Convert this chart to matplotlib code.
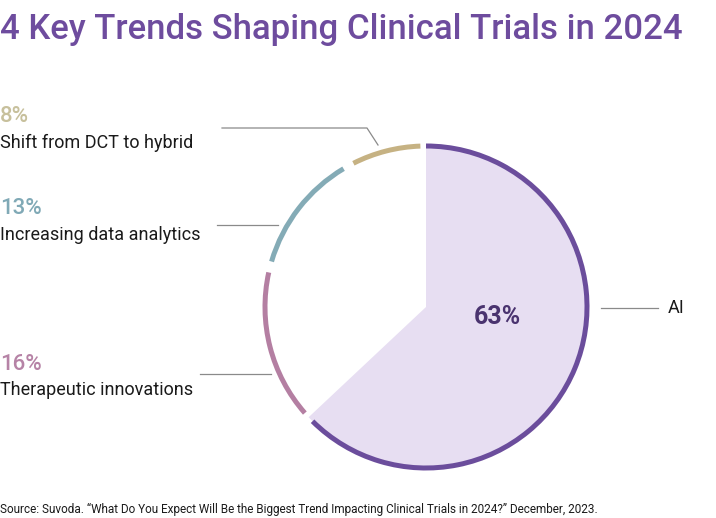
import matplotlib
matplotlib.use("Agg")
import matplotlib.pyplot as plt

labels = ["AI", "Therapeutic innovations", "Increasing data analytics", "Shift from DCT to hybrid"]
values = [63, 16, 13, 8]
pct_text = ["63%", "16%", "13%", "8%"]
arc_colors = ["#6b4d9c", "#b47fa2", "#84abb6", "#c6b283"]
text_colors = ["#4a336f", "#b683a6", "#80a9b6", "#c7c09c"]
fill_color = "#e7def2"

W, H = 716, 518
CX, CY, R = 426, H - 307, 161

fig = plt.figure(figsize=(W / 100, H / 100), dpi=100)
ax = fig.add_axes([0, 0, 1, 1])
ax.set_xlim(0, W)
ax.set_ylim(0, H)

# filled slice for AI only
ax.pie(values, colors=[fill_color, "none", "none", "none"], startangle=90,
       counterclock=False, center=(CX, CY), radius=R, frame=True,
       wedgeprops=dict(linewidth=0))

# outer ring arcs, trimmed a little at the ends to leave gaps
ring, _ = ax.pie(values, colors=arc_colors, startangle=90, counterclock=False,
                 center=(CX, CY), radius=R + 2.5, frame=True,
                 wedgeprops=dict(width=5, linewidth=0))
g = 2.0
for i, w in enumerate(ring):
    w.set_theta1(w.theta1 + g)
    if i != 0:
        w.set_theta2(w.theta2 - g)

ax.set_xlim(0, W)
ax.set_ylim(0, H)
ax.set_aspect("auto")
ax.axis("off")

font = "Roboto"
line_c = "#8a8a8a"

fig.text(0, 1 - 29 / H, "4 Key Trends Shaping Clinical Trials in 2024", color="#6e4c9e",
         fontsize=25, fontweight="medium", family=font, va="center", ha="left")

# left labels: (pct y, label y)
ypos = {1: (365, 390), 2: (209, 235), 3: (117, 143)}
for i, (yp, yl) in ypos.items():
    ax.text(0, H - yp, pct_text[i], color=text_colors[i], fontsize=16,
            fontweight="medium", family=font, va="center", ha="left")
    ax.text(0, H - yl, labels[i], color="#1a1a1a", fontsize=13,
            family=font, va="center", ha="left")

# leader lines
ax.plot([222, 367, 378], [H - 128, H - 128, H - 145], color=line_c, lw=0.9)
ax.plot([217, 278], [H - 225, H - 225], color=line_c, lw=0.9)
ax.plot([200, 271], [H - 374, H - 374], color=line_c, lw=0.9)
ax.plot([601, 658], [H - 308, H - 308], color=line_c, lw=0.9)

ax.text(668, H - 308, labels[0], color="#1a1a1a", fontsize=13, family=font,
        va="center", ha="left")
ax.text(497, H - 317, pct_text[0], color=text_colors[0], fontsize=18,
        fontweight="bold", family=font, va="center", ha="center")

fig.text(0, 1 - 509 / H,
         "Source: Suvoda. \u201cWhat Do You Expect Will Be the Biggest Trend Impacting Clinical Trials in 2024?\u201d December, 2023.",
         color="#1a1a1a", fontsize=8.5, family=font, va="center", ha="left")

fig.savefig("out.png", dpi=100)
